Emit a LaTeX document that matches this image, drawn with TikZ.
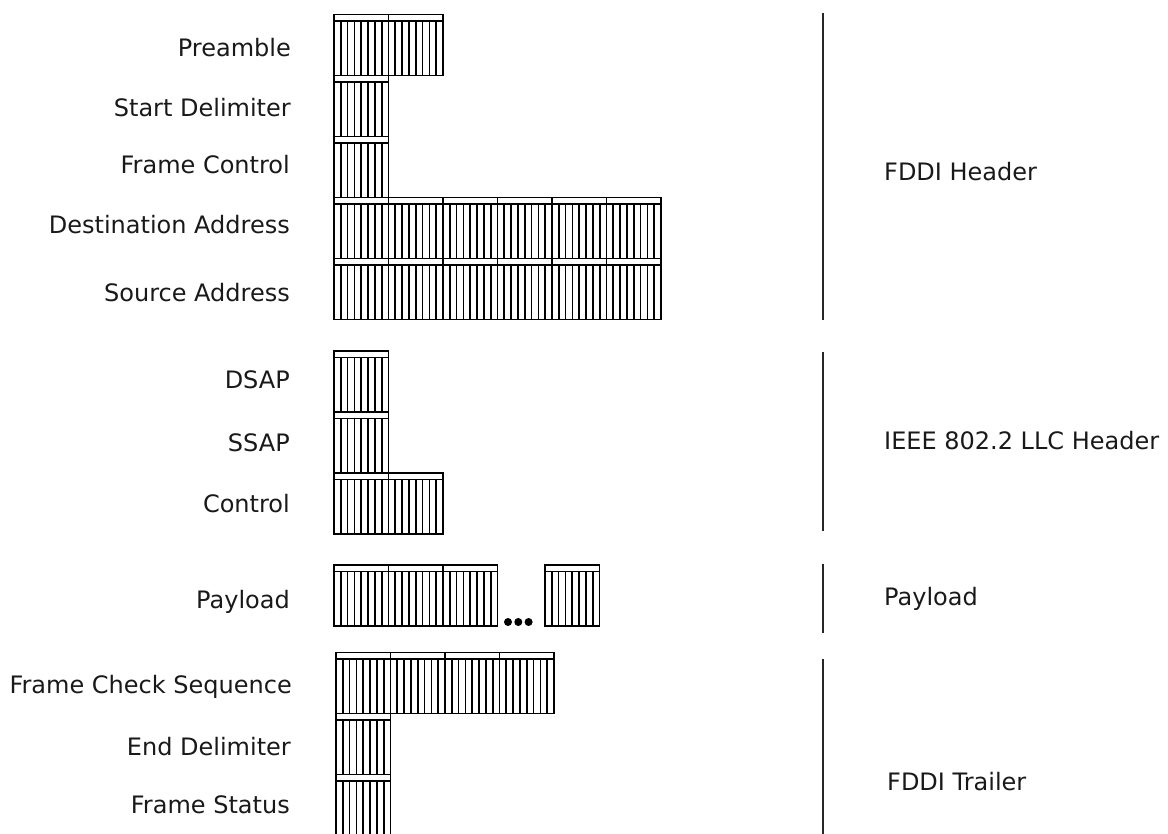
\documentclass[tikz,border=0pt]{standalone}
\usepackage{fontspec}
\setmainfont{DejaVu Sans}
\begin{document}
\begin{tikzpicture}[x=1pt,y=-1pt,
  bitline/.style={draw=black, line width=1.7pt},
  sepline/.style={draw=black!85, line width=1.8pt},
  lbl/.style={font=\fontsize{24}{29}\selectfont, text=black!90, inner sep=0pt, anchor=base east},
  grp/.style={font=\fontsize{24}{29}\selectfont, text=black!90, inner sep=0pt, anchor=base west},
  dot/.style={circle, fill=black, inner sep=0pt, minimum size=8pt},
  % one octet: a thin strip on top, eight bit lanes below
  bytecell/.pic={
    \draw[bitline] (0,0) rectangle (54.5,61);
    \draw[bitline] (0,6.5) -- (54.5,6.5);
    \foreach \k in {1,...,7}
      \draw[bitline] ({\k*54.5/8},6.5) -- ({\k*54.5/8},61);
  }]
\useasboundingbox (0,0) rectangle (1168,834);

% ---------- FDDI header ----------
\foreach \i in {0,1} \pic at ({334+\i*54.5},14.5) {bytecell};
\pic at (334,75.5) {bytecell};
\pic at (334,136.5) {bytecell};
\foreach \i in {0,...,5} \pic at ({334+\i*54.5},197.5) {bytecell};
\foreach \i in {0,...,5} \pic at ({334+\i*54.5},258.5) {bytecell};

\node[lbl] (preamble) at (291,56.5) {Preamble};
\node[lbl] (sd) at (291,117) {Start Delimiter};
\node[lbl] (fc) at (290,173.5) {Frame Control};
\node[lbl] (da) at (290,234) {Destination Address};
\node[lbl] (sa) at (290,302) {Source Address};

% ---------- LLC header ----------
\pic at (334,351) {bytecell};
\pic at (334,412) {bytecell};
\foreach \i in {0,1} \pic at ({334+\i*54.5},473) {bytecell};

\node[lbl] (dsap) at (290,388.5) {DSAP};
\node[lbl] (ssap) at (290,451.5) {SSAP};
\node[lbl] (ctrl) at (290,512.5) {Control};

% ---------- payload ----------
\foreach \i in {0,1,2} \pic at ({334+\i*54.5},565) {bytecell};
\pic at (545,565) {bytecell};
\node[dot] (d1) at (508,622) {};
\node[dot] (d2) at (518.3,622) {};
\node[dot] (d3) at (528.6,622) {};

\node[lbl] (pl) at (290,608.5) {Payload};

% ---------- FDDI trailer ----------
\foreach \i in {0,...,3} \pic at ({336+\i*54.5},652.5) {bytecell};
\pic at (336,713.5) {bytecell};
\pic at (336,774.5) {bytecell};

\node[lbl] (fcs) at (292,693.5) {Frame Check Sequence};
\node[lbl] (ed) at (291,755.5) {End Delimiter};
\node[lbl] (fs) at (290,813.5) {Frame Status};

% ---------- group brackets and names ----------
\coordinate (h1) at (823,13);   \coordinate (h2) at (823,320);
\coordinate (l1) at (823,352);  \coordinate (l2) at (823,531);
\coordinate (p1) at (823,564);  \coordinate (p2) at (823,633);
\coordinate (t1) at (823,659);  \coordinate (t2) at (823,840);
\draw[sepline] (h1) -- (h2);
\draw[sepline] (l1) -- (l2);
\draw[sepline] (p1) -- (p2);
\draw[sepline] (t1) -- (t2);

\node[grp] (gh) at (884,180.5) {FDDI Header};
\node[grp] (gl) at (884,449.5) {IEEE 802.2 LLC Header};
\node[grp] (gp) at (884,605.5) {Payload};
\node[grp] (gt) at (887,790.5) {FDDI Trailer};
\end{tikzpicture}
\end{document}
